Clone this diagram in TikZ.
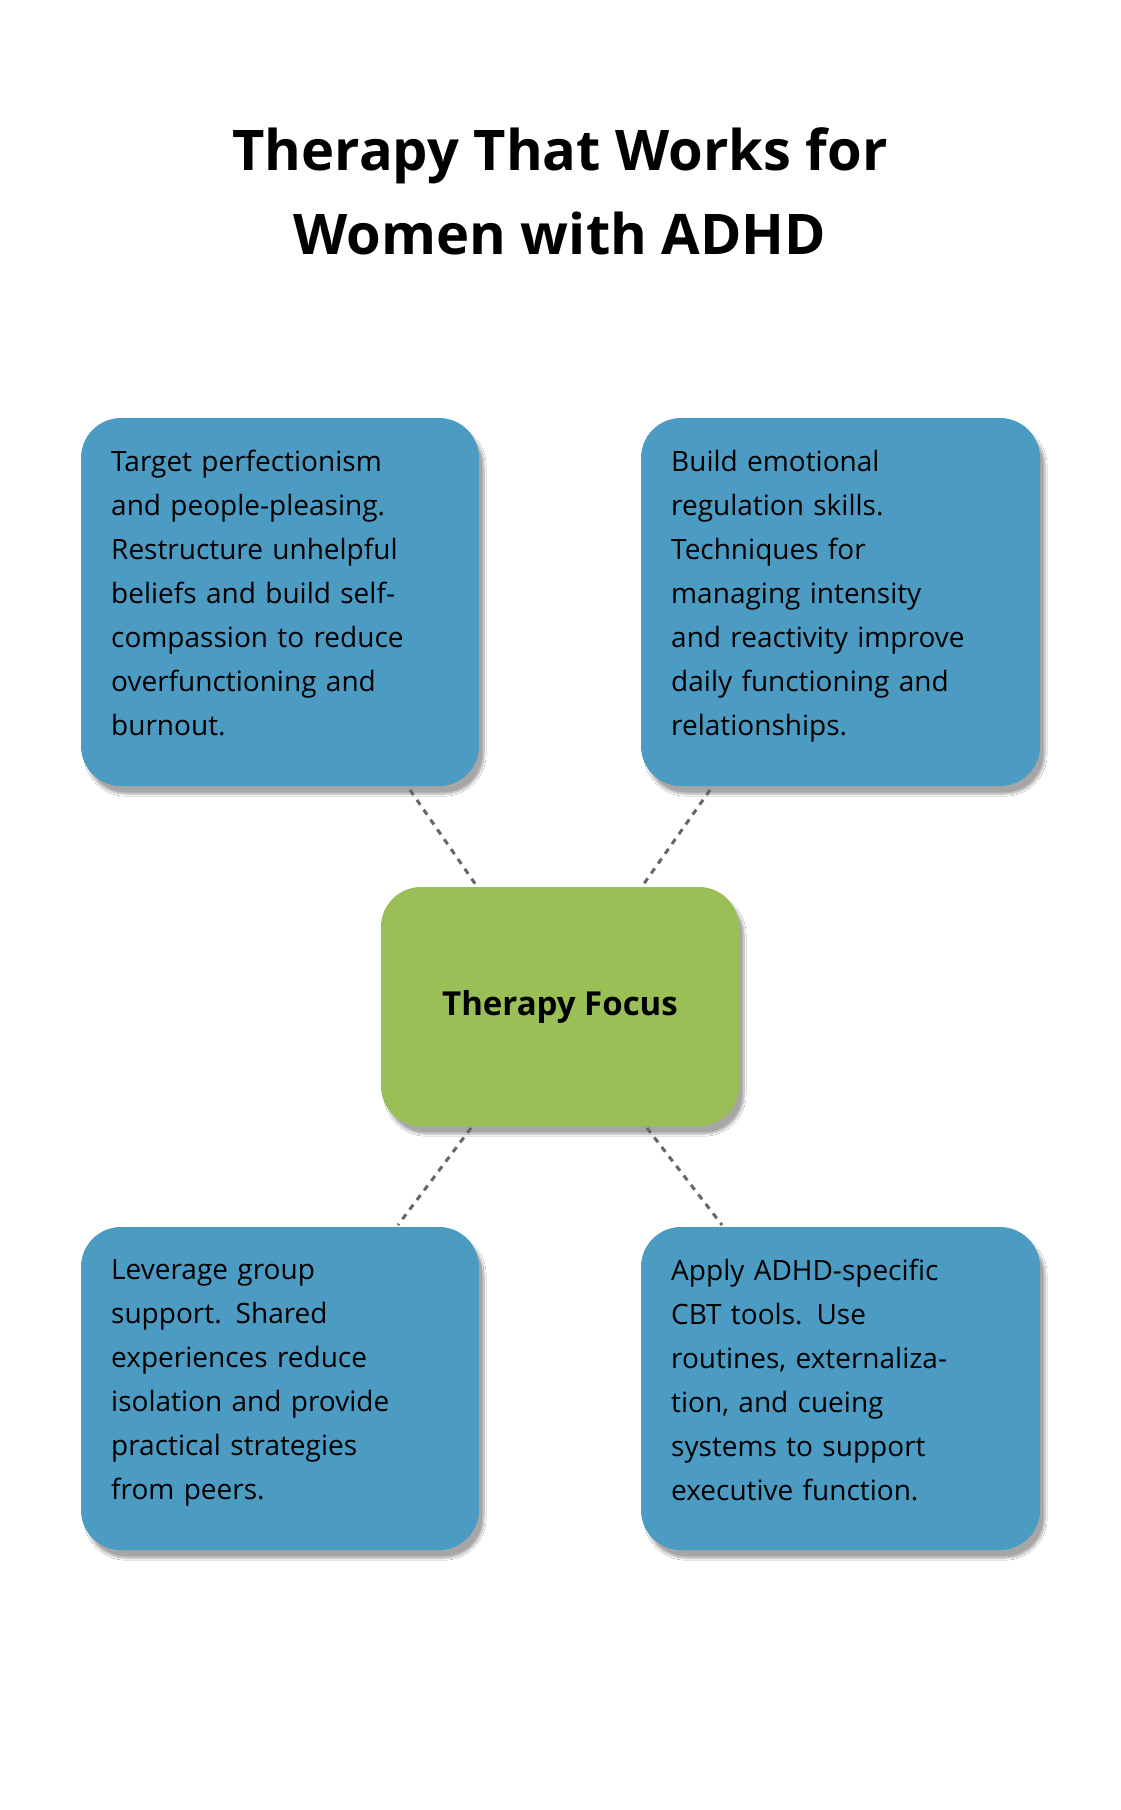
\documentclass[tikz,border=0pt]{standalone}
\usepackage{fontspec}
\setmainfont{Open Sans}
\usetikzlibrary{shadows.blur,calc}
\definecolor{boxblue}{HTML}{4B9BC3}
\definecolor{boxgreen}{HTML}{9BBF57}
\begin{document}
\begin{tikzpicture}[x=1pt,y=-1pt,
  card/.style={rounded corners=40pt,draw=none,blur shadow={shadow xshift=5pt,shadow yshift=-8pt,shadow blur steps=8,shadow opacity=35}},
  txt/.style={anchor=north west,inner sep=0pt,text width=345pt,align=left,font=\fontsize{28}{44}\selectfont},
  link/.style={draw=black!60,line width=3pt,dash pattern=on 6pt off 6pt}]
\useasboundingbox (0,0) rectangle (1120,1810);
\fill[white] (0,0) rectangle (1120,1810);
\node[font=\bfseries\fontsize{56}{84}\selectfont,align=center] (title) at (560,191) {Therapy That Works for\\Women with ADHD};
\path[card,fill=boxblue] (81,418) rectangle (479,786);
\path[card,fill=boxblue] (641,418) rectangle (1040,786);
\path[card,fill=boxgreen] (381,887) rectangle (739,1126);
\path[card,fill=boxblue] (81,1227) rectangle (479,1550);
\path[card,fill=boxblue] (641,1227) rectangle (1040,1550);
\node[txt] (t1) at (111,450) {Target perfectionism\\and people-pleasing.\\Restructure unhelpful\\beliefs and build self-\\compassion to reduce\\overfunctioning and\\burnout.};
\node[txt] (t2) at (671,450) {Build emotional\\regulation skills.\\Techniques for\\managing intensity\\and reactivity improve\\daily functioning and\\relationships.};
\node[txt] (t3) at (111,1259) {Leverage group\\support. Shared\\experiences reduce\\isolation and provide\\practical strategies\\from peers.};
\node[txt] (t4) at (671,1259) {Apply ADHD-specific\\CBT tools. Use\\routines, externaliza-\\tion, and cueing\\systems to support\\executive function.};
\node[font=\bfseries\fontsize{33}{40}\selectfont] (c) at (560,1007) {Therapy Focus};
\coordinate (a1) at (410,790); \coordinate (b1) at (476,885);
\coordinate (a2) at (710,790); \coordinate (b2) at (643,885);
\coordinate (a3) at (471,1128); \coordinate (b3) at (398,1225);
\coordinate (a4) at (647,1128); \coordinate (b4) at (722,1225);
\draw[link] (a1) -- (b1); \draw[link] (a2) -- (b2);
\draw[link] (a3) -- (b3); \draw[link] (a4) -- (b4);
\end{tikzpicture}
\end{document}
